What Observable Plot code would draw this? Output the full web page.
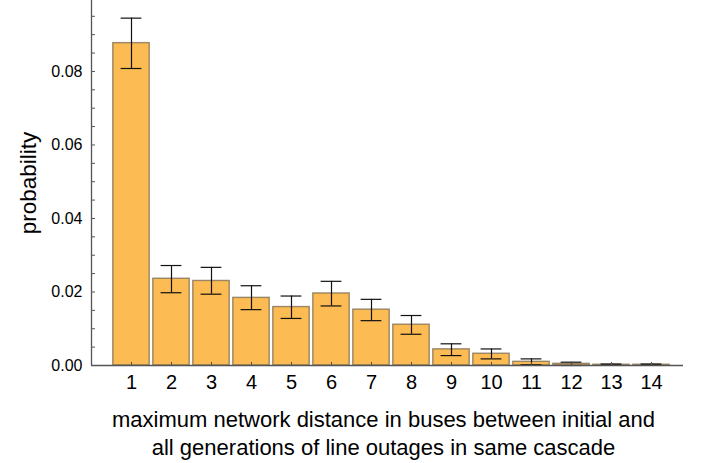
<!DOCTYPE html>
<html>
<head>
<meta charset="utf-8">
<script src="https://cdn.jsdelivr.net/npm/d3@7"></script>
<script src="https://cdn.jsdelivr.net/npm/@observablehq/plot@0.6"></script>
<style>
  html, body { margin: 0; padding: 0; background: #fff; }
  #chart svg { font-family: "Liberation Sans", Arial, sans-serif; display: block; }
</style>
</head>
<body>
<div id="chart"></div>
<script>
const categories = [1, 2, 3, 4, 5, 6, 7, 8, 9, 10, 11, 12, 13, 14];
const probability = [0.0877, 0.0236, 0.0230, 0.0184, 0.0159, 0.0196, 0.0152, 0.0111, 0.0044, 0.0032, 0.0010, 0.00045, 0.0002, 0.0002];
const errorLow  = [0.0808, 0.0198, 0.0194, 0.0152, 0.0128, 0.0162, 0.0122, 0.0085, 0.0027, 0.0018, 0.0002, 0.0000, 0.0001, 0.0001];
const errorHigh = [0.0945, 0.0272, 0.0267, 0.0217, 0.0189, 0.0229, 0.0180, 0.0136, 0.0059, 0.0045, 0.0018, 0.0009, 0.0004, 0.0004];
const yMajorTicks = [0, 0.02, 0.04, 0.06, 0.08];
const yMinorTicks = [0, 0.005, 0.01, 0.015, 0.02, 0.025, 0.03, 0.035, 0.04, 0.045, 0.05, 0.055, 0.06, 0.065, 0.07, 0.075, 0.08, 0.085, 0.09, 0.095];
const yLabel = "probability";
const xLabel = "maximum network distance in buses between initial and\nall generations of line outages in same cascade";

const data = categories.map((c, i) => ({c, p: probability[i], lo: errorLow[i], hi: errorHigh[i]}));
const barHalf = 0.455, capHalf = 0.26;

const chart = Plot.plot({
  width: 702,
  height: 463,
  marginLeft: 91,
  marginRight: 19,
  marginTop: 0,
  marginBottom: 98,
  x: {domain: [0, 14.8]},
  y: {domain: [0, 0.0993]},
  marks: [
    Plot.rectY(data, {x1: d => d.c - barHalf, x2: d => d.c + barHalf, y1: 0, y2: "p", fill: "#fcbb53", stroke: "#7a6a52", strokeOpacity: 0.75, strokeWidth: 1.4}),
    Plot.ruleX(data, {x: "c", y1: "lo", y2: "hi", stroke: "#111", strokeWidth: 1.2}),
    Plot.ruleY(data, {y: "lo", x1: d => d.c - capHalf, x2: d => d.c + capHalf, stroke: "#111", strokeWidth: 1.2}),
    Plot.ruleY(data, {y: "hi", x1: d => d.c - capHalf, x2: d => d.c + capHalf, stroke: "#111", strokeWidth: 1.2}),
    Plot.ruleX([0], {stroke: "#555", strokeWidth: 1.3}),
    Plot.ruleY([0], {stroke: "#555", strokeWidth: 1.3}),
    Plot.axisY({ticks: yMinorTicks, tickSize: -4, tickFormat: () => "", stroke: "#555", label: null}),
    Plot.axisY({ticks: yMajorTicks, tickSize: 0, tickPadding: 9, tickFormat: d3.format(".2f"), fontSize: 16, fill: "#000", label: null}),
    Plot.axisX({ticks: categories, tickSize: -3, stroke: "#555", tickFormat: () => "", label: null}),
    Plot.axisX({ticks: categories, tickSize: 0, tickPadding: 9, tickFormat: d => String(d), fontSize: 20, fill: "#000", label: null}),
    Plot.text([yLabel], {frameAnchor: "left", dx: -63, rotate: -90, fontSize: 22.5, fill: "#000", textAnchor: "middle", lineAnchor: "middle"}),
    Plot.text([xLabel], {frameAnchor: "bottom", dx: -4, dy: 41, lineAnchor: "top", fontSize: 22, lineHeight: 1.3, fill: "#000", textAnchor: "middle"})
  ]
});
document.getElementById("chart").appendChild(chart);
</script>
</body>
</html>
